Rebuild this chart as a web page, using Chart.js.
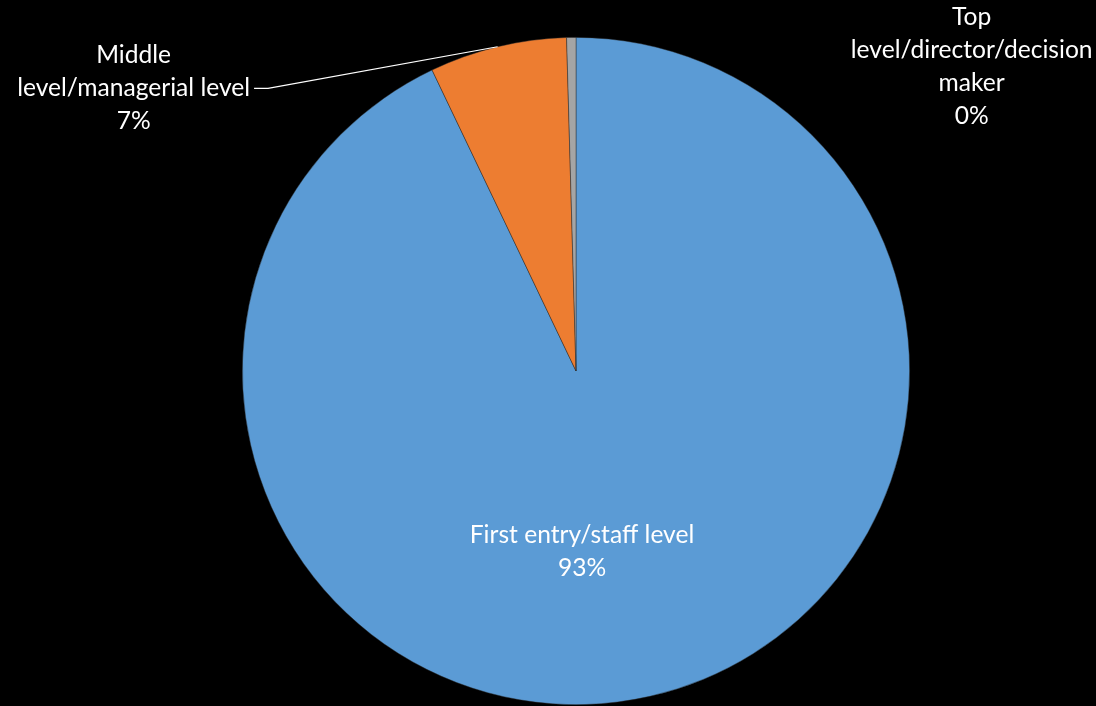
<!DOCTYPE html>
<html>
<head>
<meta charset="utf-8">
<script src="https://cdn.jsdelivr.net/npm/chart.js@4.4.1/dist/chart.umd.min.js"></script>
<style>
  html, body { margin: 0; padding: 0; background: #000; }
  #wrap { width: 1096px; height: 706px; }
</style>
</head>
<body>
<div id="wrap"><canvas id="pieChart"></canvas></div>
<script>
const categories = [
  ['First entry/staff level'],
  ['Middle', 'level/managerial level'],
  ['Top', 'level/director/decision', 'maker']
];
const values = [92.9, 6.65, 0.45];
const colors = ['#5B9BD5', '#ED7D31', '#A5A5A5'];

// label anchors, in units of the pie radius from its centre
const labelPos = [[0.018, 0.542], [-1.326, -0.847], [1.186, -0.912]];
const leader = [false, true, false];

const FONT = '24.6px Lato';
const LINE_H = 33;

const labelPlugin = {
  id: 'pieLabels',
  afterDatasetsDraw(chart) {
    const ctx = chart.ctx;
    const meta = chart.getDatasetMeta(0);
    const total = values.reduce((a, b) => a + b, 0);
    ctx.save();
    ctx.font = FONT;
    ctx.fillStyle = '#fff';
    ctx.textAlign = 'center';
    ctx.textBaseline = 'middle';
    meta.data.forEach((arc, i) => {
      const p = arc.getProps(['x', 'y', 'startAngle', 'endAngle', 'outerRadius'], true);
      const R = p.outerRadius;
      const lines = categories[i].concat([Math.round(values[i] / total * 100) + '%']);
      const cx = p.x + labelPos[i][0] * R;
      const cy = p.y + labelPos[i][1] * R;
      const top = cy - (lines.length - 1) * LINE_H / 2;
      lines.forEach((t, k) => ctx.fillText(t, cx, top + k * LINE_H));

      if (leader[i]) {
        const widest = Math.max(...lines.map(t => ctx.measureText(t).width));
        const mid = (p.startAngle + p.endAngle) / 2;
        const ex = p.x + Math.cos(mid) * R;
        const ey = p.y + Math.sin(mid) * R;
        const ly = top + LINE_H;
        const sx = cx + widest / 2 + 4;
        ctx.beginPath();
        ctx.strokeStyle = '#fff';
        ctx.lineWidth = 1.2;
        ctx.moveTo(sx, ly);
        ctx.lineTo(sx + 14, ly);
        ctx.lineTo(ex, ey);
        ctx.stroke();
      }
    });
    ctx.restore();
  }
};

new Chart(document.getElementById('pieChart'), {
  type: 'pie',
  data: {
    labels: categories,
    datasets: [{
      data: values,
      backgroundColor: colors,
      borderColor: 'rgba(40,40,40,0.6)',
      borderWidth: 0.75
    }]
  },
  options: {
    responsive: true,
    maintainAspectRatio: false,
    animation: false,
    layout: { padding: { left: 56, right: 0, top: 37, bottom: 1 } },
    plugins: {
      legend: { display: false },
      tooltip: { enabled: false }
    }
  },
  plugins: [labelPlugin]
});
</script>
</body>
</html>
